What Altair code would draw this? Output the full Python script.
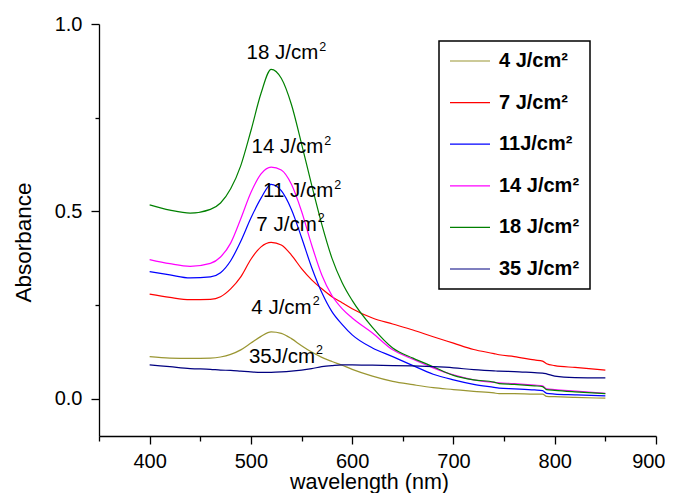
import altair as alt
import pandas as pd

# ---- data ----
wavelength = [400, 420, 440, 460, 470, 480, 490, 500, 510, 520, 530, 540, 550, 560,
              570, 580, 590, 600, 620, 640, 660, 680, 700, 720, 740, 745, 760, 780,
              788, 792, 800, 820, 850]

series_names = ["4 J/cm²", "7 J/cm²", "11J/cm²", "14 J/cm²", "18 J/cm²", "35 J/cm²"]
series_colors = ["#9A9632", "#FF0000", "#0000FF", "#FF00FF", "#008000", "#000080"]
series_widths = [1.2, 1.2, 1.2, 2.2, 1.2, 1.2]

abs_4 = [0.112, 0.108, 0.107, 0.108, 0.111, 0.118, 0.130, 0.148, 0.166, 0.178, 0.174, 0.160,
         0.141, 0.124, 0.110, 0.099, 0.089, 0.078, 0.060, 0.046, 0.037, 0.029, 0.024, 0.019,
         0.015, 0.013, 0.013, 0.012, 0.012, 0.006, 0.005, 0.003, 0.001]
abs_7 = [0.279, 0.270, 0.264, 0.265, 0.272, 0.293, 0.325, 0.372, 0.405, 0.417, 0.410, 0.383,
         0.347, 0.317, 0.293, 0.272, 0.256, 0.240, 0.215, 0.199, 0.183, 0.165, 0.148, 0.131,
         0.120, 0.117, 0.112, 0.103, 0.100, 0.093, 0.088, 0.083, 0.076]
abs_11 = [0.339, 0.330, 0.322, 0.325, 0.336, 0.368, 0.420, 0.482, 0.535, 0.572, 0.555, 0.505,
          0.430, 0.350, 0.283, 0.232, 0.198, 0.170, 0.135, 0.112, 0.088, 0.065, 0.050, 0.038,
          0.030, 0.028, 0.026, 0.023, 0.021, 0.014, 0.012, 0.010, 0.007]
abs_14 = [0.371, 0.360, 0.353, 0.361, 0.378, 0.415, 0.480, 0.550, 0.600, 0.618, 0.610, 0.572,
          0.500, 0.410, 0.330, 0.275, 0.240, 0.215, 0.175, 0.130, 0.105, 0.082, 0.063, 0.050,
          0.043, 0.042, 0.040, 0.036, 0.034, 0.026, 0.024, 0.020, 0.014]
abs_18 = [0.517, 0.503, 0.495, 0.505, 0.522, 0.560, 0.622, 0.715, 0.815, 0.879, 0.855, 0.785,
          0.680, 0.570, 0.465, 0.375, 0.310, 0.262, 0.190, 0.135, 0.108, 0.085, 0.062, 0.050,
          0.044, 0.040, 0.038, 0.034, 0.032, 0.024, 0.022, 0.018, 0.013]
abs_35 = [0.090, 0.085, 0.080, 0.078, 0.076, 0.075, 0.073, 0.071, 0.070, 0.070, 0.071, 0.073,
          0.076, 0.080, 0.085, 0.088, 0.090, 0.090, 0.089, 0.088, 0.087, 0.085, 0.082, 0.077,
          0.074, 0.073, 0.072, 0.069, 0.068, 0.066, 0.060, 0.056, 0.055]

series_values = [abs_4, abs_7, abs_11, abs_14, abs_18, abs_35]

# annotation text: main part right-aligned at the anchor, superscript "2" left-aligned there
label_main = ["18 J/cm", "14 J/cm", "11 J/cm", "7 J/cm", "4 J/cm", "35J/cm"]
label_sup = ["2", "2", "2", "2", "2", "2"]
label_x = [566.5, 571.5, 581.4, 565.0, 560.0, 563.3]
label_y = [0.906, 0.655, 0.537, 0.448, 0.226, 0.096]

x_ticks = [350, 400, 450, 500, 550, 600, 650, 700, 750, 800, 850, 900]
y_ticks = [0.0, 0.25, 0.5, 0.75, 1.0]

# ---- build tables ----
rows = []
for name, vals in zip(series_names, series_values):
    for w, v in zip(wavelength, vals):
        rows.append({"wavelength": w, "absorbance": v, "series": name})
df = pd.DataFrame(rows)
labels_df = pd.DataFrame({"main": label_main, "sup": label_sup,
                          "wavelength": label_x, "absorbance": label_y})

FONT = "Liberation Sans"

x_enc = alt.X(
    "wavelength:Q",
    scale=alt.Scale(domain=[350, 900], nice=False, zero=False),
    axis=alt.Axis(
        values=x_ticks,
        labelExpr="datum.value % 100 === 0 ? datum.label : ''",
        tickSize={"condition": {"test": "datum.value % 100 === 0", "value": 8}, "value": 5},
        title="wavelength (nm)",
        labelPadding=7,
        labelFlush=True,
        labelFlushOffset=9,
        titleX=270,
        titleY=52.5,
        titleBaseline="alphabetic",
        titleFontSize=21.5,
    ),
)
y_enc = alt.Y(
    "absorbance:Q",
    scale=alt.Scale(domain=[-0.1, 1.0], nice=False, zero=False),
    axis=alt.Axis(
        values=y_ticks,
        labelExpr="(datum.value * 4) % 2 === 0 ? format(datum.value, '.1f') : ''",
        tickSize={"condition": {"test": "(datum.value * 4) % 2 === 0", "value": 8}, "value": 4},
        title="Absorbance",
        labelPadding=9,
        titleX=-69,
        titleY=218,
        titleBaseline="alphabetic",
        titleFontSize=22.5,
    ),
)

legend = alt.Legend(
    title=None,
    orient="none",
    legendX=340,
    legendY=17,
    direction="vertical",
    strokeColor="black",
    padding=10,
    symbolType="stroke",
    symbolSize=1600,
    clipHeight=20,
    labelFontSize=20,
    labelFontWeight="bold",
    labelFont=FONT,
    labelColor="black",
    labelOffset=8,
    rowPadding=21.6,
    labelLimit=200,
)

lines = alt.Chart(df).mark_line(interpolate="monotone").encode(
    x=x_enc,
    y=y_enc,
    color=alt.Color("series:N",
                    scale=alt.Scale(domain=series_names, range=series_colors),
                    sort=series_names,
                    legend=legend),
    strokeWidth=alt.StrokeWidth("series:N",
                                scale=alt.Scale(domain=series_names, range=series_widths),
                                sort=series_names,
                                legend=legend),
    detail="series:N",
)

texts_main = alt.Chart(labels_df).mark_text(
    font=FONT, fontSize=20.5, color="black", align="right", baseline="alphabetic"
).encode(
    x="wavelength:Q",
    y="absorbance:Q",
    text="main:N",
)

texts_sup = alt.Chart(labels_df).mark_text(
    font=FONT, fontSize=12.5, color="black", align="left", baseline="alphabetic",
    dx=1, dy=-8.5
).encode(
    x="wavelength:Q",
    y="absorbance:Q",
    text="sup:N",
)

chart = alt.layer(lines, texts_main, texts_sup).properties(
    width=557,
    height=412,
    autosize=alt.AutoSizeParams(type="none"),
    padding={"left": 91, "top": 16, "right": 9, "bottom": 57},
).configure_view(
    stroke=None
).configure_axis(
    grid=False,
    domainColor="black",
    domainWidth=1.3,
    tickColor="black",
    tickWidth=1.3,
    labelColor="black",
    labelFont=FONT,
    labelFontSize=20,
    titleColor="black",
    titleFont=FONT,
    titleFontWeight="normal",
).configure_legend(
    strokeWidth=1.5,
)

chart.save("out.html", embed_options={"renderer": "svg", "actions": False})
